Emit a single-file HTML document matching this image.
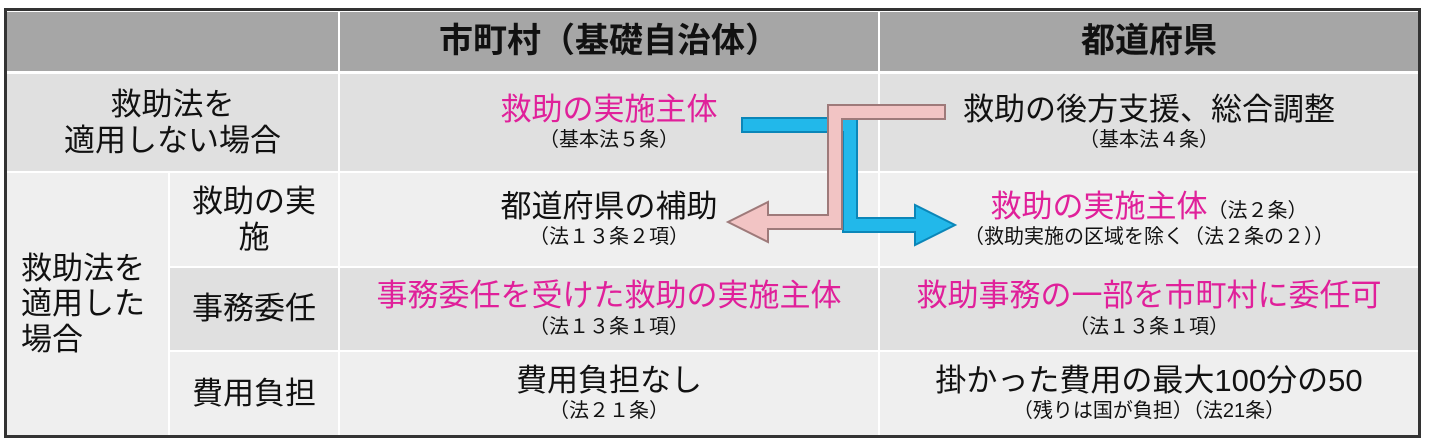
<!DOCTYPE html>
<html><head><meta charset="utf-8"><style>
body{margin:0;width:1429px;height:448px;background:#fff;position:relative;overflow:hidden;font-family:"Liberation Sans","Noto Sans CJK JP",sans-serif;}
.c{position:absolute;display:flex;flex-direction:column;align-items:center;justify-content:center;text-align:center;color:#111;font-size:31px;line-height:1.15;white-space:nowrap;}
.s{font-size:20px;line-height:1.3;}
.m{color:#e0209a;}
.frame{position:absolute;left:4px;top:8px;width:1417px;height:430px;background:#333;}
</style></head><body>
<div class="frame"></div>
<div class="c" style="left:7px;top:11px;width:1411px;height:424px;background:#fff"></div>
<div class="c" style="left:7px;top:12px;width:331px;height:59px;background:#a6a6a6"></div>
<div class="c" style="left:340px;top:12px;width:538px;height:59px;background:#a6a6a6;font-weight:bold;font-size:34px">市町村（基礎自治体）</div>
<div class="c" style="left:880px;top:12px;width:538px;height:59px;background:#a6a6a6;font-weight:bold;font-size:34px">都道府県</div>
<div class="c" style="left:7px;top:74px;width:331px;height:97px;background:#e0e0e0">救助法を<br>適用しない場合</div>
<div class="c" style="left:340px;top:74px;width:538px;height:97px;background:#e0e0e0"><div class="m">救助の実施主体</div><div class="s">（基本法５条）</div></div>
<div class="c" style="left:880px;top:74px;width:538px;height:97px;background:#e0e0e0"><div>救助の後方支援、総合調整</div><div class="s">（基本法４条）</div></div>
<div class="c" style="left:7px;top:173px;width:161px;height:262px;background:#efefef;align-items:flex-start;padding-left:14px;box-sizing:border-box;text-align:left">救助法を<br>適用した<br>場合</div>
<div class="c" style="left:170px;top:173px;width:168px;height:93px;background:#efefef">救助の実<br>施</div>
<div class="c" style="left:340px;top:173px;width:538px;height:93px;background:#efefef"><div>都道府県の補助</div><div class="s">（法１３条２項）</div></div>
<div class="c" style="left:880px;top:173px;width:538px;height:93px;background:#efefef"><div><span class="m">救助の実施主体</span><span class="s">（法２条）</span></div><div class="s">（救助実施の区域を除く（法２条の２））</div></div>
<div class="c" style="left:170px;top:268px;width:168px;height:82px;background:#e0e0e0">事務委任</div>
<div class="c" style="left:340px;top:268px;width:538px;height:82px;background:#e0e0e0"><div class="m">事務委任を受けた救助の実施主体</div><div class="s">（法１３条１項）</div></div>
<div class="c" style="left:880px;top:268px;width:538px;height:82px;background:#e0e0e0"><div class="m">救助事務の一部を市町村に委任可</div><div class="s">（法１３条１項）</div></div>
<div class="c" style="left:170px;top:352px;width:168px;height:83px;background:#efefef">費用負担</div>
<div class="c" style="left:340px;top:352px;width:538px;height:83px;background:#efefef"><div>費用負担なし</div><div class="s">（法２１条）</div></div>
<div class="c" style="left:880px;top:352px;width:538px;height:83px;background:#efefef"><div>掛かった費用の最大100分の50</div><div class="s">（残りは国が負担）（法21条）</div></div>
<svg width="1429" height="448" style="position:absolute;left:0;top:0">
<path d="M742,118 L857,118 L857,218 L915,218 L915,205 L955,225 L915,245 L915,232 L843,232 L843,132 L742,132 Z" fill="#22b8ea" stroke="#0b86b8" stroke-width="2"/>
<path d="M945,105 L945,119 L842,119 L842,229 L768,229 L768,242 L728,222 L768,202 L768,215 L828,215 L828,105 Z" fill="#f2c4c4" stroke="#9e7a7a" stroke-width="2"/>
</svg>
</body></html>
